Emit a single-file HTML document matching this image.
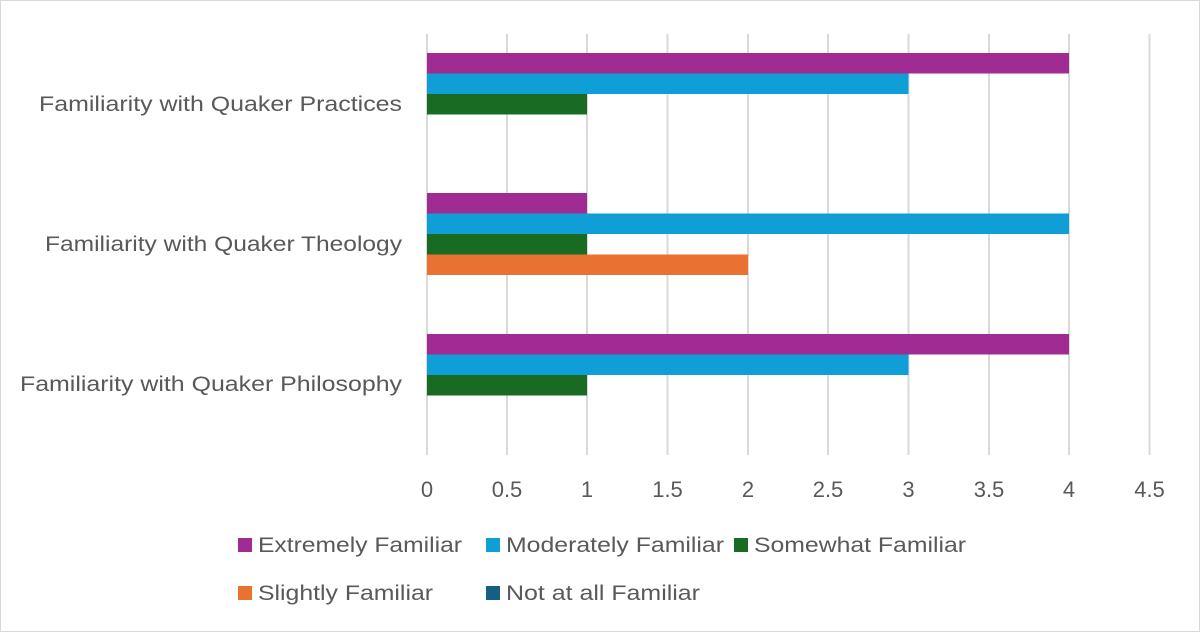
<!DOCTYPE html>
<html><head><style>body{margin:0;background:#fff}svg{display:block}text{font-family:"Liberation Sans",sans-serif;fill:#595959}</style></head><body>
<svg width="1200" height="632" xmlns="http://www.w3.org/2000/svg">
<rect x="0.5" y="0.5" width="1199" height="631" fill="#fff" stroke="#d9d9d9"/>
<g stroke="#d9d9d9" stroke-width="2">
<line x1="427" y1="34" x2="427" y2="455"/><line x1="507" y1="34" x2="507" y2="455"/><line x1="587" y1="34" x2="587" y2="455"/><line x1="667.5" y1="34" x2="667.5" y2="455"/><line x1="748" y1="34" x2="748" y2="455"/><line x1="828" y1="34" x2="828" y2="455"/><line x1="908.5" y1="34" x2="908.5" y2="455"/><line x1="989" y1="34" x2="989" y2="455"/><line x1="1069" y1="34" x2="1069" y2="455"/><line x1="1149.5" y1="34" x2="1149.5" y2="455"/>
</g>
<rect x="427" y="53" width="642" height="20.5" fill="#a02b93"/>
<rect x="427" y="73.5" width="481.5" height="20.5" fill="#0f9ed5"/>
<rect x="427" y="94" width="160" height="20.5" fill="#196b24"/>
<rect x="427" y="193" width="160" height="20.5" fill="#a02b93"/>
<rect x="427" y="213.5" width="642" height="20.5" fill="#0f9ed5"/>
<rect x="427" y="234" width="160" height="20.5" fill="#196b24"/>
<rect x="427" y="254.5" width="321" height="20.5" fill="#e97132"/>
<rect x="427" y="334" width="642" height="20.5" fill="#a02b93"/>
<rect x="427" y="354.5" width="481.5" height="20.5" fill="#0f9ed5"/>
<rect x="427" y="375" width="160" height="20.5" fill="#196b24"/>
<g font-size="21">
<text x="39" y="111" textLength="363" lengthAdjust="spacingAndGlyphs">Familiarity with Quaker Practices</text>
<text x="45" y="251" textLength="357" lengthAdjust="spacingAndGlyphs">Familiarity with Quaker Theology</text>
<text x="20" y="391" textLength="382" lengthAdjust="spacingAndGlyphs">Familiarity with Quaker Philosophy</text>
</g>
<g font-size="22" text-anchor="middle">
<text x="427" y="497">0</text><text x="507" y="497">0.5</text><text x="587" y="497">1</text><text x="667.5" y="497">1.5</text><text x="748" y="497">2</text><text x="828" y="497">2.5</text><text x="908.5" y="497">3</text><text x="989" y="497">3.5</text><text x="1069" y="497">4</text><text x="1149.5" y="497">4.5</text>
</g>
<g font-size="21">
<rect x="238" y="538" width="14" height="14" fill="#a02b93"/><text x="258" y="552" textLength="204" lengthAdjust="spacingAndGlyphs">Extremely Familiar</text>
<rect x="486" y="538" width="14" height="14" fill="#0f9ed5"/><text x="506" y="552" textLength="218" lengthAdjust="spacingAndGlyphs">Moderately Familiar</text>
<rect x="734" y="538" width="14" height="14" fill="#196b24"/><text x="754" y="552" textLength="212" lengthAdjust="spacingAndGlyphs">Somewhat Familiar</text>
<rect x="238" y="586" width="14" height="14" fill="#e97132"/><text x="258" y="600" textLength="175" lengthAdjust="spacingAndGlyphs">Slightly Familiar</text>
<rect x="486" y="586" width="14" height="14" fill="#156082"/><text x="506" y="600" textLength="194" lengthAdjust="spacingAndGlyphs">Not at all Familiar</text>
</g>
</svg>
</body></html>
